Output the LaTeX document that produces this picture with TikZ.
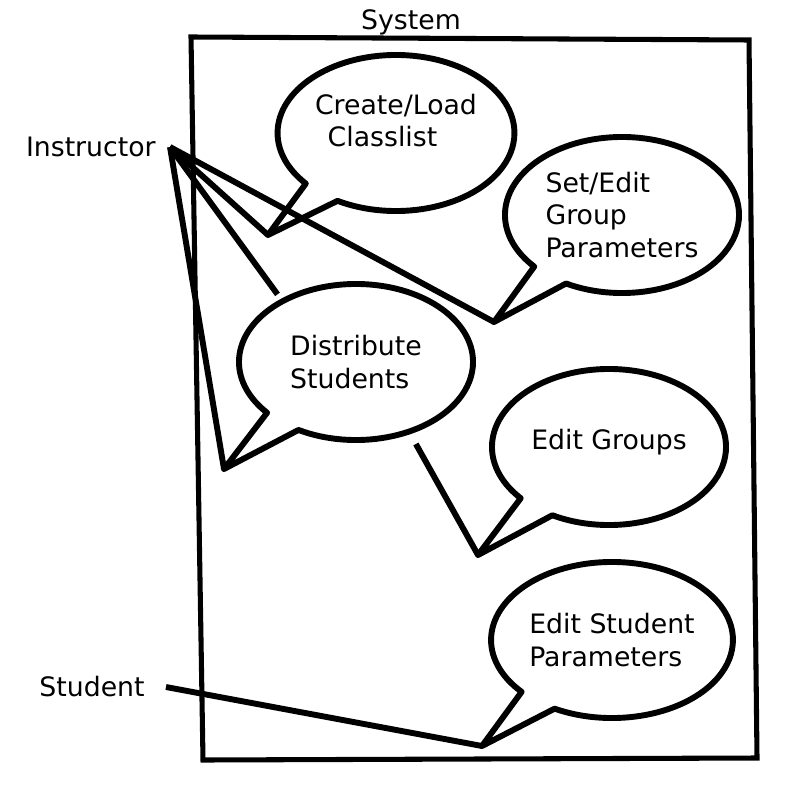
\documentclass[tikz,border=0pt]{standalone}
\usepackage{fontspec}
\setmainfont{DejaVu Sans}
\usetikzlibrary{shapes.callouts}

\begin{document}
\begin{tikzpicture}[
    x=0.025cm, y=-0.025cm,
    font=\fontsize{19}{23}\selectfont,
    bubble/.style={draw, fill=white, ellipse callout, line width=4.2pt, line join=round, minimum width=5.85cm, minimum height=3.9cm, align=left, inner sep=2pt, callout pointer arc=20},
    actor/.style={anchor=east, inner sep=10pt},
    link/.style={line width=4.2pt},
]
    \useasboundingbox (0,0) rectangle (800,800);

    % System boundary
    \draw[line width=3.6pt] (191,37) -- (749,40) -- (757,758) -- (203,760) -- cycle;
    \node[anchor=base] (sys) at (411,30) {System};

    % Actors
    \node[actor] (inst) at (170,147) {Instructor};
    \node[actor, inner xsep=15pt] (stud) at (166,687) {Student};

    % Pointer tips
    \coordinate (load tip) at (268,235);
    \coordinate (setp tip) at (494,322);
    \coordinate (dist tip) at (224,469);
    \coordinate (editg tip) at (478,555);
    \coordinate (edits tip) at (482,746);

    % Use cases
    \node[bubble, text depth=18pt, callout absolute pointer={(load tip)}] (load) at (396,133) {Create/Load\\\hspace*{9pt}Classlist};
    \node[bubble, callout absolute pointer={(setp tip)}] (setp) at (622,215) {Set/Edit\\Group\\Parameters};
    \node[bubble, callout absolute pointer={(dist tip)}] (dist) at (356,362) {Distribute\\Students};
    \node[bubble, text depth=11pt, callout absolute pointer={(editg tip)}] (editg) at (609,447) {Edit Groups};
    \node[bubble, callout absolute pointer={(edits tip)}] (edits) at (612,640) {Edit Student\\Parameters};

    % Associations
    \draw[link] (inst.east) -- (load tip);
    \draw[link, shorten >=4pt] (inst.east) -- (dist.140);
    \draw[link] (inst.east) -- (setp tip);
    \draw[link] (inst.east) -- (dist tip);
    \draw[link, shorten <=8pt] (dist.307) -- (editg tip);
    \draw[link] (stud.east) -- (edits tip);

\end{tikzpicture}
\end{document}
